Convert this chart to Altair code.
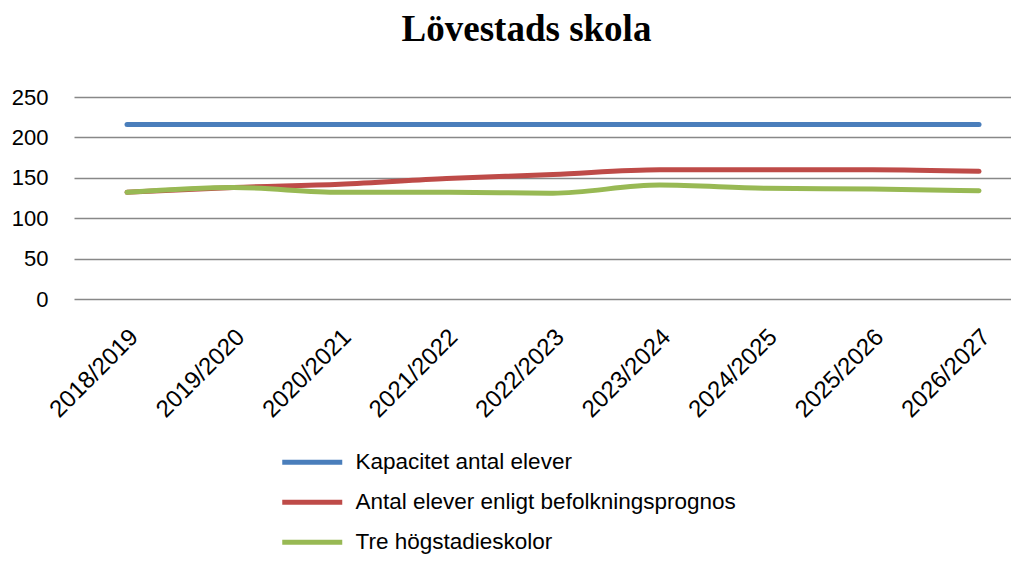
import altair as alt
import pandas as pd

years = ["2018/2019", "2019/2020", "2020/2021", "2021/2022", "2022/2023",
         "2023/2024", "2024/2025", "2025/2026", "2026/2027"]
series_names = ["Kapacitet antal elever",
                "Antal elever enligt befolkningsprognos",
                "Tre högstadieskolor"]
kapacitet = [216, 216, 216, 216, 216, 216, 216, 216, 216]
prognos = [132, 138, 142, 149, 154, 160, 160, 160, 158]
tre = [132, 138, 132, 132, 131, 141, 137, 136, 134]
colors = ["#4A7EBB", "#BE4B48", "#98B954"]

rows = []
for name, vals in zip(series_names, [kapacitet, prognos, tre]):
    for i, (y, v) in enumerate(zip(years, vals)):
        rows.append({"year": y, "value": v, "series": name, "order": i})
df = pd.DataFrame(rows)

chart = alt.Chart(df).mark_line(
    strokeWidth=5, strokeCap="round", strokeJoin="round", interpolate="monotone"
).encode(
    x=alt.X("year:N", sort=years,
            scale=alt.Scale(type="point", padding=0.399, align=0.624),
            axis=alt.Axis(title=None, labelAngle=-45, ticks=False, domain=False,
                          grid=False, labelFont="Liberation Sans", labelFontSize=24,
                          labelColor="#000000", labelPadding=34, labelOffset=7,
                          labelAlign="right", labelBaseline="middle")),
    y=alt.Y("value:Q", scale=alt.Scale(domain=[0, 250]),
            axis=alt.Axis(title=None, values=[0, 50, 100, 150, 200, 250],
                          ticks=False, domain=False, gridColor="#888888",
                          gridWidth=1.5, labelFont="Liberation Sans", labelFontSize=22,
                          labelColor="#000000", labelPadding=26)),
    color=alt.Color("series:N", sort=series_names,
                    scale=alt.Scale(domain=series_names, range=colors),
                    legend=alt.Legend(title=None, orient="none", legendX=227,
                                      legendY=354, direction="vertical",
                                      symbolType="M-6,0H6", symbolSize=100,
                                      symbolStrokeWidth=5, labelFont="Liberation Sans",
                                      labelFontSize=22.5, labelColor="#000000",
                                      labelOffset=32, rowPadding=17, padding=0,
                                      labelLimit=600)),
    order="order:Q",
).properties(
    width=937, height=202,
    autosize=alt.AutoSizeParams(type="none"),
    padding={"left": 66, "top": 89, "right": 0, "bottom": 256},
    title=alt.TitleParams("Lövestads skola", font="Liberation Serif", fontSize=37,
                          fontWeight="bold", color="#000000", anchor="middle",
                          offset=37, dx=-16),
).configure_view(stroke=None)

chart.save("out.html", embed_options={"renderer": "svg", "actions": False})
